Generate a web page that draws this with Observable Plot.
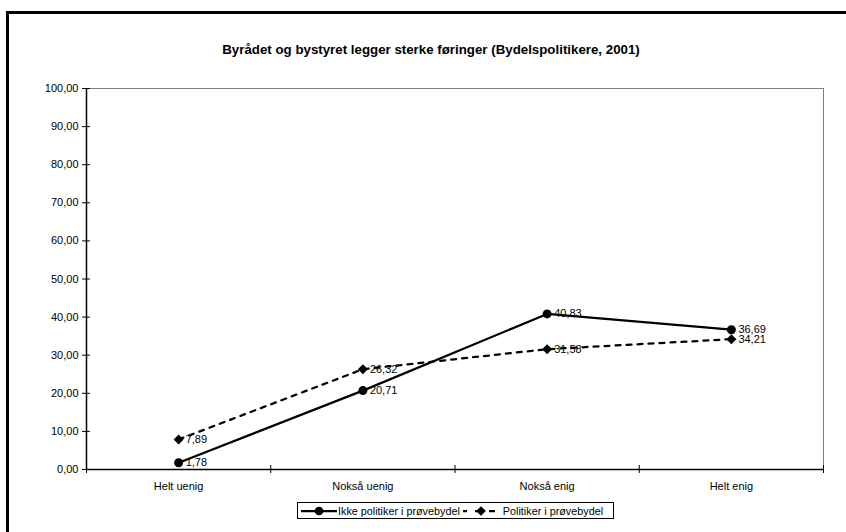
<!DOCTYPE html>
<html>
<head>
<meta charset="utf-8">
<script src="https://cdn.jsdelivr.net/npm/d3@7"></script>
<script src="https://cdn.jsdelivr.net/npm/@observablehq/plot@0.6"></script>
<style>
  html, body { margin: 0; padding: 0; background: #fff; }
  body { font-family: "Liberation Sans", Arial, sans-serif; }
  #wrap { position: relative; width: 846px; height: 532px; overflow: hidden; background: #fff; }
  #frame { position: absolute; left: 6px; top: 11px; width: 900px; height: 600px;
           border-left: 3px solid #000; border-top: 3px solid #000; }
  #title { position: absolute; left: 0; top: 42px; width: 862px; text-align: center;
           font-weight: bold; font-size: 13.3px; color: #000; }
  #chart { position: absolute; left: 0; top: 0; }
  #legend { position: absolute; left: 297px; top: 502px; width: 317px; height: 17px;
            border: 1px solid #000; background: #fff; font-size: 10.8px; display: flex;
            align-items: center; box-sizing: border-box; padding-left: 2px; white-space: nowrap; }
  #legend svg { display: block; }
</style>
</head>
<body>
<div id="wrap">
  <div id="frame"></div>
  <div id="chart"></div>
  <div id="title">Byrådet og bystyret legger sterke føringer (Bydelspolitikere, 2001)</div>
  <div id="legend"></div>
</div>
<script>
const categories = ["Helt uenig", "Nokså uenig", "Nokså enig", "Helt enig"];
const seriesNames = ["Ikke politiker i prøvebydel", "Politiker i prøvebydel"];
const ikkePolitiker = [1.78, 20.71, 40.83, 36.69];
const politiker = [7.89, 26.32, 31.58, 34.21];
const yTicks = [0, 10, 20, 30, 40, 50, 60, 70, 80, 90, 100];

const fmt = d => d.toFixed(2).replace(".", ",");
const rowsA = categories.map((c, i) => ({pos: i + 0.5, cat: c, value: ikkePolitiker[i]}));
const rowsB = categories.map((c, i) => ({pos: i + 0.5, cat: c, value: politiker[i]}));
const centers = categories.map((c, i) => i + 0.5);
const bounds = d3.range(categories.length + 1);

const chart = Plot.plot({
  width: 846,
  height: 532,
  marginLeft: 86,
  marginRight: 23,
  marginTop: 88,
  marginBottom: 63,
  style: {fontFamily: "'Liberation Sans', Arial, sans-serif", fontSize: "11px", background: "transparent", color: "#000"},
  x: {type: "linear", domain: [0, categories.length], axis: null, label: null},
  y: {domain: [0, 100], axis: null, label: null},
  marks: [
    Plot.frame({stroke: "#808080", strokeWidth: 1}),
    Plot.ruleX([0], {stroke: "#000", strokeWidth: 1.5}),
    Plot.ruleY([0], {stroke: "#000", strokeWidth: 1.5}),
    Plot.axisY(yTicks, {anchor: "left", label: null, tickSize: 8, dx: 4, tickFormat: () => "", stroke: "#000"}),
    Plot.axisY(yTicks, {anchor: "left", label: null, tickSize: 0, tickPadding: 8, tickFormat: fmt, fontSize: 11}),
    Plot.axisX(bounds, {anchor: "bottom", label: null, tickSize: 8, dy: -4, tickFormat: () => "", stroke: "#000"}),
    Plot.axisX(centers, {anchor: "bottom", label: null, tickSize: 0, tickPadding: 13, tickFormat: (d) => categories[Math.floor(d)], fontSize: 11}),
    Plot.line(rowsB, {x: "pos", y: "value", stroke: "#000", strokeWidth: 2.25, strokeDasharray: "5,6"}),
    Plot.line(rowsA, {x: "pos", y: "value", stroke: "#000", strokeWidth: 2.25}),
    Plot.dot(rowsB, {x: "pos", y: "value", symbol: "diamond2", r: 4.5, fill: "#000", stroke: "none"}),
    Plot.dot(rowsA, {x: "pos", y: "value", symbol: "circle", r: 4.5, fill: "#000", stroke: "none"}),
    Plot.text(rowsA, {x: "pos", y: "value", text: d => fmt(d.value), dx: 7, textAnchor: "start", fontSize: 11, fill: "#000"}),
    Plot.text(rowsB, {x: "pos", y: "value", text: d => fmt(d.value), dx: 7, textAnchor: "start", fontSize: 11, fill: "#000"})
  ]
});
document.getElementById("chart").appendChild(chart);

// legend
const legend = d3.select("#legend");
function sample(dashed, symbol) {
  const s = legend.append("svg").attr("width", 38).attr("height", 12);
  s.append("line").attr("x1", 1).attr("x2", 37).attr("y1", 6).attr("y2", 6)
    .attr("stroke", "#000").attr("stroke-width", 2.25)
    .attr("stroke-dasharray", dashed ? "6,8" : null)
    .attr("stroke-dashoffset", dashed ? 2 : null);
  s.append("path").attr("transform", "translate(19,6)")
    .attr("d", d3.symbol(symbol, 60)()).attr("fill", "#000");
}
sample(false, d3.symbolCircle);
legend.append("span").text(seriesNames[0]).style("margin-right", "2px");
sample(true, d3.symbolDiamond2);
legend.append("span").text(seriesNames[1]).style("margin-left", "3px");
</script>
</body>
</html>
